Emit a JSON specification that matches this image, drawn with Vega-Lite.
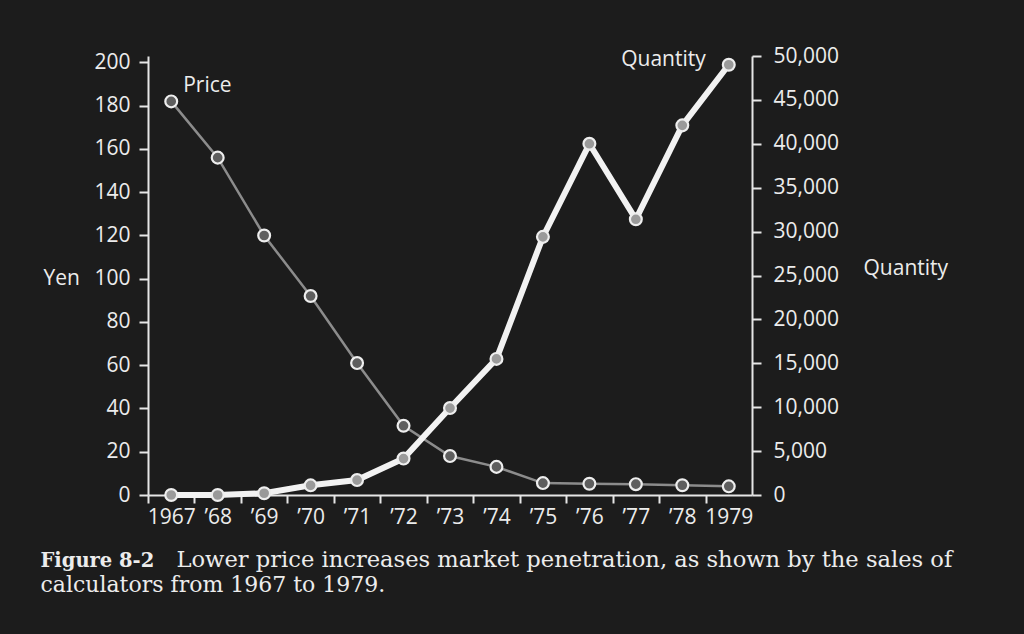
{
  "$schema": "https://vega.github.io/schema/vega-lite/v6.json",
  "width": 604,
  "height": 439,
  "autosize": {"type": "none"},
  "padding": {"left": 148, "top": 56, "right": 272, "bottom": 139},
  "background": "#1c1c1c",
  "config": {
    "view": {"stroke": null},
    "axis": {
      "labelFont": "Open Sans",
      "labelFontSize": 21,
      "labelColor": "#ececec",
      "domainColor": "#e6e6e6",
      "domainWidth": 2,
      "tickColor": "#e6e6e6",
      "tickWidth": 2,
      "titleFont": "Open Sans",
      "titleFontSize": 21,
      "titleFontWeight": "normal",
      "titleColor": "#ececec",
      "grid": false
    }
  },
  "data": {
    "values": [
      {"year": 1967, "price": 182, "quantity": 0},
      {"year": 1968, "price": 156, "quantity": 0},
      {"year": 1969, "price": 120, "quantity": 200},
      {"year": 1970, "price": 92, "quantity": 1100},
      {"year": 1971, "price": 61, "quantity": 1700},
      {"year": 1972, "price": 32, "quantity": 4150},
      {"year": 1973, "price": 18, "quantity": 9900},
      {"year": 1974, "price": 13, "quantity": 15500},
      {"year": 1975, "price": 5.5, "quantity": 29400},
      {"year": 1976, "price": 5.2, "quantity": 40000},
      {"year": 1977, "price": 5, "quantity": 31400},
      {"year": 1978, "price": 4.5, "quantity": 42100},
      {"year": 1979, "price": 4, "quantity": 49000}
    ]
  },
  "layer": [
    {
      "mark": {
        "type": "line",
        "color": "#8c8c8c",
        "strokeWidth": 2.5,
        "point": {"filled": true, "fill": "#5e5e5e", "stroke": "#eeeeee", "strokeWidth": 2.2, "size": 140, "opacity": 1}
      },
      "encoding": {
        "x": {
          "field": "year",
          "type": "quantitative",
          "scale": {"domain": [1966.5, 1979.5], "nice": false, "zero": false},
          "axis": {
            "orient": "bottom",
            "values": [1966.5, 1967.5, 1968.5, 1969.5, 1970.5, 1971.5, 1972.5, 1973.5, 1974.5, 1975.5, 1976.5, 1977.5, 1978.5],
            "labelExpr": "datum.value == 1966.5 ? '1967' : (datum.value == 1978.5 ? '1979' : '\u2019' + format(datum.value + 0.5 - 1900, 'd'))",
            "labelOffset": 23.23,
            "labelFlush": false,
            "labelOverlap": false,
            "tickSize": 8,
            "labelPadding": 3,
            "title": "Figure 8-2",
            "titleX": -108,
            "titleY": 71,
            "titleAlign": "left",
            "titleAnchor": "start",
            "titleBaseline": "alphabetic",
            "titleFont": "DejaVu Serif",
            "titleFontWeight": "bold",
            "titleFontSize": 19.5
          }
        },
        "y": {
          "field": "price",
          "type": "quantitative",
          "scale": {"domain": [0, 203], "nice": false},
          "axis": {
            "orient": "left",
            "values": [0, 20, 40, 60, 80, 100, 120, 140, 160, 180, 200],
            "tickSize": 9,
            "labelPadding": 9,
            "title": "Yen",
            "titleAngle": 0,
            "titleX": -105,
            "titleY": 222,
            "titleAlign": "left",
            "titleBaseline": "middle"
          }
        }
      }
    },
    {
      "mark": {
        "type": "line",
        "color": "#f2f2f2",
        "strokeWidth": 6,
        "point": {"filled": true, "fill": "#9a9a9a", "stroke": "#eeeeee", "strokeWidth": 2.2, "size": 140, "opacity": 1}
      },
      "encoding": {
        "x": {
          "field": "year",
          "type": "quantitative",
          "scale": {"domain": [1966.5, 1979.5], "nice": false, "zero": false},
          "axis": {
            "orient": "bottom",
            "domain": false,
            "ticks": false,
            "labels": false,
            "title": "Lower price increases market penetration, as shown by the sales of",
            "titleX": 28,
            "titleY": 71,
            "titleAlign": "left",
            "titleAnchor": "start",
            "titleBaseline": "alphabetic",
            "titleFont": "DejaVu Serif",
            "titleFontWeight": "normal",
            "titleFontSize": 22.6
          }
        },
        "y": {
          "field": "quantity",
          "type": "quantitative",
          "scale": {"domain": [0, 50000], "nice": false},
          "axis": {
            "orient": "right",
            "values": [0, 5000, 10000, 15000, 20000, 25000, 30000, 35000, 40000, 45000, 50000],
            "format": ",d",
            "tickSize": 9,
            "labelPadding": 12,
            "title": "Quantity",
            "titleAngle": 0,
            "titleX": 111,
            "titleY": 212,
            "titleAlign": "left",
            "titleBaseline": "middle"
          }
        }
      }
    },
    {
      "transform": [{"filter": "datum.year == 1967"}],
      "mark": {"type": "text", "text": "Price", "align": "left", "baseline": "middle", "dx": 12, "dy": -15, "font": "Open Sans", "fontSize": 21, "color": "#ececec"},
      "encoding": {
        "x": {
          "field": "year",
          "type": "quantitative",
          "scale": {"domain": [1966.5, 1979.5], "nice": false, "zero": false},
          "axis": {
            "orient": "bottom",
            "domain": false,
            "ticks": false,
            "labels": false,
            "title": "calculators from 1967 to 1979.",
            "titleX": -108,
            "titleY": 96,
            "titleAlign": "left",
            "titleAnchor": "start",
            "titleBaseline": "alphabetic",
            "titleFont": "DejaVu Serif",
            "titleFontWeight": "normal",
            "titleFontSize": 22
          }
        },
        "y": {"field": "price", "type": "quantitative", "scale": {"domain": [0, 203], "nice": false}, "axis": null}
      }
    },
    {
      "transform": [{"filter": "datum.year == 1979"}],
      "mark": {"type": "text", "text": "Quantity", "align": "right", "baseline": "middle", "dx": -23, "dy": -5, "font": "Open Sans", "fontSize": 21, "color": "#ececec"},
      "encoding": {
        "x": {"field": "year", "type": "quantitative", "scale": {"domain": [1966.5, 1979.5], "nice": false, "zero": false}, "axis": null},
        "y": {"field": "quantity", "type": "quantitative", "scale": {"domain": [0, 50000], "nice": false}, "axis": null}
      }
    }
  ],
  "resolve": {"scale": {"y": "independent"}, "axis": {"x": "independent", "y": "independent"}}
}
